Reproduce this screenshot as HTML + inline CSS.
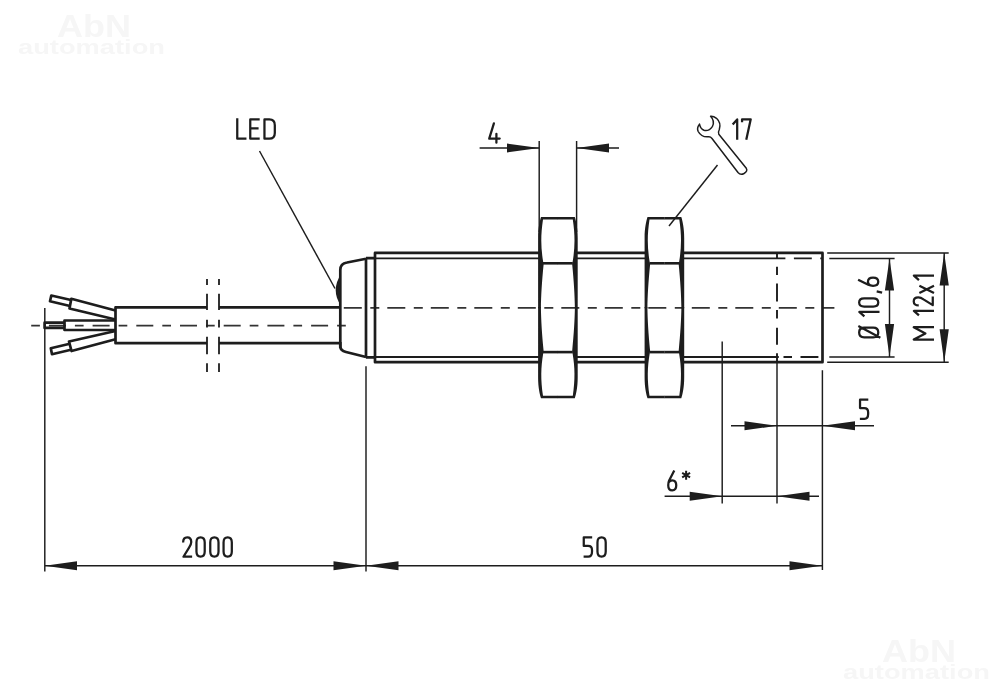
<!DOCTYPE html>
<html><head><meta charset="utf-8">
<style>
html,body{margin:0;padding:0;background:#fff;}
body{width:1000px;height:691px;overflow:hidden;}
svg{display:block;will-change:transform;filter:grayscale(1);}
text{font-family:"Liberation Sans",sans-serif;fill:#1d1d1b;font-size:31.5px;}
.wm text{font-weight:bold;fill:#f6f6f6;stroke:none;}
.k{stroke:#1d1d1b;stroke-width:2.7;fill:none;stroke-linejoin:round;stroke-linecap:butt;}
.t{stroke:#1d1d1b;stroke-width:1.45;fill:none;}
.m{stroke:#1d1d1b;stroke-width:1.8;fill:none;}
.c{stroke:#333;stroke-width:1.7;fill:none;}
.a{fill:#1d1d1b;stroke:none;}
.gl path{stroke:#1d1d1b;fill:none;stroke-linejoin:round;stroke-linecap:butt;}
</style></head>
<body>
<svg width="1000" height="691" viewBox="0 0 1000 691">
<rect width="1000" height="691" fill="#fff"/>
<g opacity="0.999">

<!-- watermarks -->
<g class="wm">
<text x="57" y="37" style="font-size:32px" textLength="74" lengthAdjust="spacingAndGlyphs">AbN</text>
<text x="18" y="53.5" style="font-size:19.5px" textLength="147" lengthAdjust="spacingAndGlyphs">automation</text>
<text x="882" y="662" style="font-size:32px" textLength="74" lengthAdjust="spacingAndGlyphs">AbN</text>
<text x="843" y="678.5" style="font-size:19.5px" textLength="147" lengthAdjust="spacingAndGlyphs">automation</text>
</g>

<!-- centerlines -->
<path class="c" d="M343.8,307.8 H834.4" stroke-dasharray="18 8.5 9 8"/>
<path class="c" d="M31.2,325.6 H346" stroke-dasharray="8.7 9 17 9"/>

<!-- wires -->
<g class="k">
<path d="M115.5,310.5 L71.3,298.8 L69.5,308.5 L115.5,319.5"/>
<path d="M71,300 L51.3,295.5 L50,301.2 L70,306"/>
<path d="M115.5,339.3 L71.5,351 L69,341.5 L115.5,331"/>
<path d="M71,349.8 L52,354.2 L50.8,348.2 L69.8,343.8"/>
<path d="M115.5,320.5 H64.5 V330 H115.5"/>
<path d="M64.5,322.7 H44.6 V327.9 H64.5"/>
</g>

<!-- cable -->
<g class="k">
<path d="M207,307.4 H115.5 V343.2 H207"/>
<path d="M219,307.4 H340.3"/>
<path d="M219,343.2 H340.3"/>
</g>
<!-- break lines -->
<g class="m">
<path d="M207,279 V285 M207,293.8 V310 M207,319.7 V327.6 M207,336.8 V354.3 M207,363.3 V372"/>
<path d="M219,279 V285 M219,293.8 V310 M219,319.7 V327.6 M219,336.8 V354.3 M219,363.3 V372"/>
</g>

<!-- end cap -->
<g class="k">
<path d="M340.3,348 V270 Q340.3,263.5 347,262.5 L366,258.7"/>
<path d="M340.3,342 V346.5 Q340.3,350.5 346,352 L366,357"/>
<path d="M366,258.1 H375 M366,357.4 H375 M366,258.1 V357.4"/>
</g>
<!-- LED -->
<path class="a" d="M340.8,274.5 Q330.6,290 340.8,305.5 Z"/>

<!-- body -->
<g class="k">
<path d="M539.3,252.9 H375 V362.2 H539.3"/>
<path d="M576.7,252.9 H645.8 M576.7,362.2 H645.8"/>
<path d="M683,252.9 H822.5 V362.2 H683"/>
</g>
<g class="m">
<path d="M375,258.3 H539.3 M576.7,258.3 H645.8 M683,258.3 H777"/>
<path d="M375,357 H539.3 M576.7,357 H645.8 M683,357 H777"/>
</g>
<!-- hidden sensing face -->
<g class="m" style="stroke-width:1.9">
<path d="M777,252.9 V259 M777,266.7 V275.1 M777,283.6 V301.5 M777,310 V318.4 M777,327.8 V344.8 M777,353.3 V362"/>
<path d="M777,258.4 H785.4 M793.9,258.4 H811.8 M820.3,258.4 H822.4"/>
<path d="M777,357 H778.8 M783.5,357 H792 M800.5,357 H818.4"/>
</g>

<!-- nuts -->
<defs>
<g id="q">
<path class="a" d="M541,217.1 C539.8,221 538.1,228 538.1,238 V308.3 H540.9 C541.1,295 541.9,282 543.6,264.6 L543.2,262 C540.8,248 540.6,236 543,219.6 H558 V217.1 Z"/>
<path class="a" d="M543,262 H558 V264.6 H543 Z"/>
</g>
<g id="nut">
<use href="#q"/>
<use href="#q" transform="translate(1115.8,0) scale(-1,1)"/>
<use href="#q" transform="translate(0,615.4) scale(1,-1)"/>
<use href="#q" transform="translate(1115.8,615.4) scale(-1,-1)"/>
</g>
</defs>
<use href="#nut"/>
<use href="#nut" x="106.5"/>

<!-- LED label -->
<path class="t" d="M259.5,151 L335,288.5"/>

<!-- dim 4 -->
<path class="t" d="M539.2,141 V232 M576.6,141 V232 M479.6,148 H539 M577,148 H619"/>
<path class="a" d="M539.3,148 L507,143.5 V152.5 Z M576.7,148 L609,143.5 V152.5 Z"/>
<path d="M493.9,123.4 L489.2,138.6 H499.7 M496.4,133.8 V142.7" style="stroke:#1d1d1b;stroke-width:2.25;fill:none;stroke-linecap:round;stroke-linejoin:round"/>

<!-- wrench -->
<path class="m" style="stroke-width:1.5;stroke-linejoin:round" d="M699.5,124.1 Q696.5,128 698.2,131.5 Q701.5,137.5 708.5,136.8 Q710.5,136.6 712,138.5 L738,172.5 Q740.5,175.5 744,173.5 Q748,171 746.3,168.3 L718.8,134.2 Q717.8,132.5 719.3,129.5 Q721.5,123 716.5,118.3 Q713.5,116 710.6,116.3 Q715,121 712.5,126.3 Q709,131.5 704,130.3 Q700.5,129 699.5,124.1 Z"/>
<path class="t" d="M717.5,165 L669,226"/>

<!-- right dims -->
<path class="t" d="M827.2,252.9 H948.7 M827.2,362.2 H948.7 M829.3,258.4 H894.6 M829.3,357 H894.6"/>
<path class="t" d="M889.5,258.4 V357 M944.2,252.9 V362.2"/>
<path class="a" d="M889.5,258.4 L884.9,290.5 H894.1 Z M889.5,357 L884.9,324 H894.1 Z"/>
<path class="a" d="M944.2,252.9 L939.6,285.6 H948.8 Z M944.2,362.2 L939.6,329.2 H948.8 Z"/>

<!-- dim 5 / 6 -->
<path class="t" d="M722.2,341.5 V503.5 M777,362 V503.5"/>
<path class="t" d="M731,425.8 H874 M664.6,496.3 H819"/>
<path class="a" d="M777,425.8 L744.5,421.3 V430.3 Z M822.4,425.8 L855,421.3 V430.3 Z"/>
<path class="a" d="M722.2,496.3 L689.7,491.8 V500.8 Z M777,496.3 L809.5,491.8 V500.8 Z"/>

<!-- bottom dims -->
<path class="t" d="M44.8,308 V571.5 M366,366.3 V571.5 M822.4,370.2 V570 M44.8,565.8 H822"/>
<path class="a" d="M44.8,565.8 L77,561.3 V570.3 Z M366,565.8 L333.5,561.3 V570.3 Z M366,565.8 L398.5,561.3 V570.3 Z M822,565.8 L789.5,561.3 V570.3 Z"/>
<!-- labels -->
<g class="gl">
<path transform="translate(236.00,118.20) scale(0.2180)" d="M5.75,0 V94.25 H48" style="stroke-width:10.32"/>
<path transform="translate(249.00,118.20) scale(0.2180)" d="M49,5.75 H5.75 V94.25 H49 M5.75,47 H44" style="stroke-width:10.32"/>
<path transform="translate(263.20,118.20) scale(0.2180)" d="M5.75,5.75 H28 C45,5.75 53.25,16 53.25,32 V68 C53.25,84 45,94.25 28,94.25 H5.75 Z" style="stroke-width:10.32"/>
<path transform="translate(731.90,118.00) scale(0.2180)" d="M3.5,30 L24.25,6.5 V100" style="stroke-width:10.32"/>
<path transform="translate(740.80,118.00) scale(0.2180)" d="M5.75,19 V5.75 H45.5 L25,100" style="stroke-width:10.32"/>
<path transform="translate(181.80,536.00) scale(0.2200)" d="M6,29 C6,14 13,5.75 24.5,5.75 C36,5.75 43,13 43,27 C43,37 39,44 33,53 L7.5,94.25 H47" style="stroke-width:10.23"/>
<path transform="translate(195.20,536.00) scale(0.2200)" d="M24.5,5.75 C11,5.75 5.75,15 5.75,29 V71 C5.75,85 11,94.25 24.5,94.25 C38,94.25 43.25,85 43.25,71 V29 C43.25,15 38,5.75 24.5,5.75 Z" style="stroke-width:10.23"/>
<path transform="translate(209.00,536.00) scale(0.2200)" d="M24.5,5.75 C11,5.75 5.75,15 5.75,29 V71 C5.75,85 11,94.25 24.5,94.25 C38,94.25 43.25,85 43.25,71 V29 C43.25,15 38,5.75 24.5,5.75 Z" style="stroke-width:10.23"/>
<path transform="translate(222.30,536.00) scale(0.2200)" d="M24.5,5.75 C11,5.75 5.75,15 5.75,29 V71 C5.75,85 11,94.25 24.5,94.25 C38,94.25 43.25,85 43.25,71 V29 C43.25,15 38,5.75 24.5,5.75 Z" style="stroke-width:10.23"/>
<path transform="translate(582.50,536.00) scale(0.2200)" d="M44,5.75 H5.75 V45 H25 C37,45 43.25,52 43.25,64 V72 C43.25,86 37,94.25 26,94.25 H5" style="stroke-width:10.23"/>
<path transform="translate(596.20,536.00) scale(0.2200)" d="M24.5,5.75 C11,5.75 5.75,15 5.75,29 V71 C5.75,85 11,94.25 24.5,94.25 C38,94.25 43.25,85 43.25,71 V29 C43.25,15 38,5.75 24.5,5.75 Z" style="stroke-width:10.23"/>
<path transform="translate(858.80,398.40) scale(0.2160)" d="M44,5.75 H5.75 V45 H25 C37,45 43.25,52 43.25,64 V72 C43.25,86 37,94.25 26,94.25 H5" style="stroke-width:10.42"/>
<path transform="translate(667.00,470.30) scale(0.2140)" d="M34,1 L10,48 C6.5,56 5.75,62 5.75,70 C5.75,86 12,94.25 24.5,94.25 C37,94.25 43.25,86 43.25,70 C43.25,55 37,46.5 24.5,46.5 C17,46.5 11,50 7.5,57" style="stroke-width:10.51"/>
<path transform="translate(681.20,470.30) scale(0.2140)" d="M23,2 V44 M4.5,12.5 L41.5,33.5 M41.5,12.5 L4.5,33.5" style="stroke-width:9.46"/>
<path transform="translate(879.50,338.50) rotate(-90) translate(0.00,-21.60) scale(0.2160)" d="M28,5.75 C13,5.75 5.75,15 5.75,29 V71 C5.75,85 13,94.25 28,94.25 C43,94.25 50.25,85 50.25,71 V29 C50.25,15 43,5.75 28,5.75 Z M58,2 L3,104" style="stroke-width:10.42"/>
<path transform="translate(879.50,338.50) rotate(-90) translate(21.30,-21.60) scale(0.2160)" d="M3.5,30 L24.25,6.5 V100" style="stroke-width:10.42"/>
<path transform="translate(879.50,338.50) rotate(-90) translate(30.70,-21.60) scale(0.2160)" d="M24.5,5.75 C11,5.75 5.75,15 5.75,29 V71 C5.75,85 11,94.25 24.5,94.25 C38,94.25 43.25,85 43.25,71 V29 C43.25,15 38,5.75 24.5,5.75 Z" style="stroke-width:10.42"/>
<path transform="translate(879.50,338.50) rotate(-90) translate(45.20,-21.60) scale(0.2160)" d="M9,87 L3,112" style="stroke-width:10.42"/>
<path transform="translate(879.50,338.50) rotate(-90) translate(51.50,-21.60) scale(0.2160)" d="M34,1 L10,48 C6.5,56 5.75,62 5.75,70 C5.75,86 12,94.25 24.5,94.25 C37,94.25 43.25,86 43.25,70 C43.25,55 37,46.5 24.5,46.5 C17,46.5 11,50 7.5,57" style="stroke-width:10.42"/>
<path transform="translate(934.00,340.80) rotate(-90) translate(0.00,-21.50) scale(0.2150)" d="M5.75,100 V5.75 L34.5,60 L63.25,5.75 V100" style="stroke-width:10.47"/>
<path transform="translate(934.00,340.80) rotate(-90) translate(24.70,-21.50) scale(0.2150)" d="M3.5,30 L24.25,6.5 V100" style="stroke-width:10.47"/>
<path transform="translate(934.00,340.80) rotate(-90) translate(34.10,-21.50) scale(0.2150)" d="M6,29 C6,14 13,5.75 24.5,5.75 C36,5.75 43,13 43,27 C43,37 39,44 33,53 L7.5,94.25 H47" style="stroke-width:10.47"/>
<path transform="translate(934.00,340.80) rotate(-90) translate(46.80,-21.50) scale(0.2150)" d="M4.5,32 L38.5,100 M38.5,32 L4.5,100" style="stroke-width:10.47"/>
<path transform="translate(934.00,340.80) rotate(-90) translate(60.00,-21.50) scale(0.2150)" d="M3.5,30 L24.25,6.5 V100" style="stroke-width:10.47"/>
</g>
</g>
</svg>
</body></html>
